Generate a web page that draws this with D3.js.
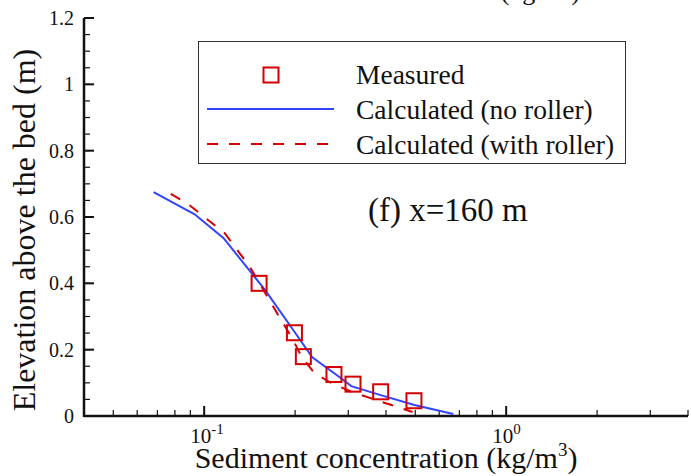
<!DOCTYPE html>
<html>
<head>
<meta charset="utf-8">
<script src="https://cdn.jsdelivr.net/npm/d3@7"></script>
<style>
body{margin:0;background:#fff}
svg{display:block}
text{font-family:"Liberation Serif","Times New Roman",serif;fill:#111}
</style>
</head>
<body>
<div id="chart"></div>
<script>
// measured points
var measuredConc = [0.152, 0.199, 0.213, 0.269, 0.311, 0.384, 0.495]
var measuredElev = [0.40, 0.251, 0.179, 0.125, 0.096, 0.073, 0.046]
// model, no roller
var noRollerConc = [0.068, 0.093, 0.116, 0.159, 0.199, 0.228, 0.281, 0.307, 0.384, 0.497, 0.668]
var noRollerElev = [0.675, 0.608, 0.536, 0.38, 0.254, 0.177, 0.117, 0.09, 0.063, 0.033, 0.006]
// model, with roller
var withRollerConc = [0.0775, 0.089, 0.103, 0.117, 0.1416, 0.163, 0.180, 0.197, 0.21, 0.232, 0.264, 0.307, 0.3575, 0.417, 0.49]
var withRollerElev = [0.67, 0.637, 0.591, 0.551, 0.45, 0.355, 0.289, 0.229, 0.179, 0.129, 0.099, 0.073, 0.053, 0.033, 0.012]

var xMajorTicks = [0.1, 1]
var xMajorExp = ["-1", "0"]
var xMinorTicks = [0.05, 0.06, 0.07, 0.08, 0.09, 0.2, 0.3, 0.4, 0.5, 0.6, 0.7, 0.8, 0.9, 2, 3, 4]
var yMajorTicks = [0, 0.2, 0.4, 0.6, 0.8, 1, 1.2]
var yMinorTicks = d3.range(0.05, 1.2, 0.05)

var legendLabels = ["Measured", "Calculated (no roller)", "Calculated (with roller)"]

var width = 691, height = 476
var plotLeft = 84, plotRight = 688, plotTop = 18, plotBottom = 416
var red = "#d40000", blue = "#3344ff"

var svg = d3.select("#chart").append("svg")
    .attr("width", width)
    .attr("height", height)

var x = d3.scaleLog().domain([0.04, 4]).range([plotLeft, plotRight])
var y = d3.scaleLinear().domain([0, 1.2]).range([plotBottom, plotTop])

// cut-off label from the panel above
var cut = svg.append("text")
    .attr("x", 580).attr("y", 0)
    .attr("text-anchor", "end")
    .style("font-size", "26px")
cut.append("tspan").text("Sediment concentration (kg/m")
cut.append("tspan").attr("dy", -10).style("font-size", "17px").text("3")
cut.append("tspan").attr("dy", 10).text(")")

// ticks (pointing inward)
svg.selectAll(".xminor").data(xMinorTicks).enter().append("line")
    .attr("x1", d => x(d)).attr("x2", d => x(d))
    .attr("y1", plotBottom).attr("y2", plotBottom - 6)
    .attr("stroke", "#111").attr("stroke-width", 1.2)
svg.selectAll(".xmajor").data(xMajorTicks).enter().append("line")
    .attr("x1", d => x(d)).attr("x2", d => x(d))
    .attr("y1", plotBottom).attr("y2", plotBottom - 10)
    .attr("stroke", "#111").attr("stroke-width", 2)
svg.selectAll(".yminor").data(yMinorTicks).enter().append("line")
    .attr("y1", d => y(d)).attr("y2", d => y(d))
    .attr("x1", plotLeft).attr("x2", plotLeft + 6)
    .attr("stroke", "#111").attr("stroke-width", 1.2)
svg.selectAll(".ymajor").data(yMajorTicks).enter().append("line")
    .attr("y1", d => y(d)).attr("y2", d => y(d))
    .attr("x1", plotLeft).attr("x2", plotLeft + 10)
    .attr("stroke", "#111").attr("stroke-width", 2)

// axis lines
svg.append("line")
    .attr("x1", plotLeft).attr("x2", plotRight).attr("y1", plotBottom).attr("y2", plotBottom)
    .attr("stroke", "#111").attr("stroke-width", 2.5)
svg.append("line")
    .attr("x1", plotLeft).attr("x2", plotLeft).attr("y1", plotTop).attr("y2", plotBottom + 1)
    .attr("stroke", "#111").attr("stroke-width", 2.5)

// tick labels
svg.selectAll(".ylab").data(yMajorTicks).enter().append("text")
    .attr("x", plotLeft - 10).attr("y", d => y(d) + 7)
    .attr("text-anchor", "end")
    .style("font-size", "20px")
    .text(d => d3.format("")(d))
var xl = svg.selectAll(".xlab").data(xMajorTicks).enter().append("text")
    .attr("x", d => x(d) - 14).attr("y", plotBottom + 27)
    .style("font-size", "21px")
xl.append("tspan").text("10")
xl.append("tspan").attr("dy", -9).style("font-size", "15px").text((d, i) => xMajorExp[i])

// axis titles
var xt = svg.append("text")
    .attr("x", 386).attr("y", 468)
    .attr("text-anchor", "middle")
    .style("font-size", "30px")
xt.append("tspan").text("Sediment concentration (kg/m")
xt.append("tspan").attr("dy", -12).style("font-size", "19px").text("3")
xt.append("tspan").attr("dy", 12).text(")")

svg.append("text")
    .attr("transform", "translate(35,230) rotate(-90)")
    .attr("text-anchor", "middle")
    .style("font-size", "32px")
    .text("Elevation above the bed (m)")

// curves
var line = d3.line().x(d => x(d[0])).y(d => y(d[1]))
svg.append("path")
    .datum(d3.zip(noRollerConc, noRollerElev))
    .attr("d", line)
    .attr("fill", "none").attr("stroke", blue).attr("stroke-width", 2)
svg.append("path")
    .datum(d3.zip(withRollerConc, withRollerElev))
    .attr("d", line)
    .attr("fill", "none").attr("stroke", red).attr("stroke-width", 2)
    .attr("stroke-dasharray", "11,11")

// measured squares
var sq = 15
svg.selectAll(".meas").data(d3.zip(measuredConc, measuredElev)).enter().append("rect")
    .attr("x", d => x(d[0]) - sq / 2).attr("y", d => y(d[1]) - sq / 2)
    .attr("width", sq).attr("height", sq)
    .attr("fill", "none").attr("stroke", red).attr("stroke-width", 2)

// legend
var lg = svg.append("g")
lg.append("rect")
    .attr("x", 198.5).attr("y", 41.5).attr("width", 427).attr("height", 122)
    .attr("fill", "none").attr("stroke", "#333").attr("stroke-width", 1)
lg.append("rect")
    .attr("x", 263.5).attr("y", 67.5).attr("width", sq).attr("height", sq)
    .attr("fill", "none").attr("stroke", red).attr("stroke-width", 2)
lg.append("line")
    .attr("x1", 207).attr("x2", 334).attr("y1", 109).attr("y2", 109)
    .attr("stroke", blue).attr("stroke-width", 2)
lg.append("line")
    .attr("x1", 207).attr("x2", 334).attr("y1", 144).attr("y2", 144)
    .attr("stroke", red).attr("stroke-width", 2).attr("stroke-dasharray", "11,11")
lg.selectAll(".lt").data(legendLabels).enter().append("text")
    .attr("x", 356).attr("y", (d, i) => 84 + i * 35)
    .style("font-size", "27.5px")
    .text(d => d)

// panel label
svg.append("text")
    .attr("x", 368).attr("y", 221)
    .style("font-size", "33px")
    .text("(f) x=160 m")
</script>
</body>
</html>
